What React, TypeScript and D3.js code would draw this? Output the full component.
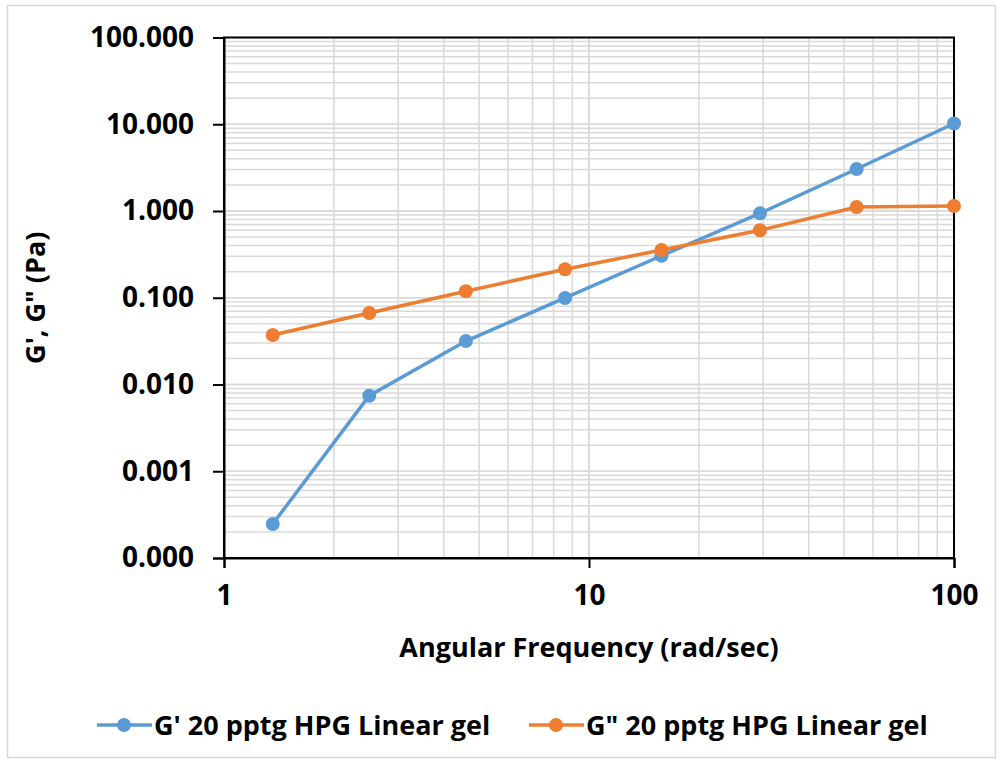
import React, { useEffect, useRef } from 'react';
import * as d3 from 'd3';

// angular frequency (rad/sec)
const freq = [1.36, 2.5, 4.6, 8.6, 15.8, 29.4, 54.1, 100];
const gPrime = [0.000247, 0.00743, 0.0317, 0.0995, 0.305, 0.94, 3.05, 10.2];
const gDouble = [0.0372, 0.0668, 0.119, 0.213, 0.355, 0.6, 1.11, 1.14];
const yTicks = [0.0001, 0.001, 0.01, 0.1, 1, 10, 100];
const xTicks = [1, 10, 100];
const seriesNames = ["G' 20 pptg HPG Linear gel", 'G" 20 pptg HPG Linear gel'];
const colors = ['#5b9bd5', '#ed7d31'];

const App = () => {
  const svgRef = useRef<SVGSVGElement>(null);

  useEffect(() => {
    const width = 1003;
    const height = 762;
    const margin = { top: 37.5, right: 49, bottom: 204, left: 224 };
    const font = '"Open Sans", "Noto Sans", sans-serif';

    const svg = d3.select(svgRef.current).attr('width', width).attr('height', height);
    svg.selectAll('*').remove();

    // outer chart border
    svg.append('rect')
      .attr('x', 7.5).attr('y', 5.5)
      .attr('width', 988).attr('height', 752)
      .attr('fill', '#fff').attr('stroke', '#d9d9d9').attr('stroke-width', 1.5);

    const x = d3.scaleLog().domain([1, 100]).range([margin.left, width - margin.right]);
    const y = d3.scaleLog().domain([0.0001, 100]).range([height - margin.bottom, margin.top]);

    // minor + major gridlines
    const xGrid: number[] = [];
    for (let dec = 1; dec < 100; dec *= 10) for (let k = 1; k <= 10; k++) xGrid.push(dec * k);
    const yGrid: number[] = [];
    for (let dec = 0.0001; dec < 99; dec *= 10) for (let k = 1; k <= 10; k++) yGrid.push(dec * k);

    const grid = svg.append('g').attr('stroke', '#d9d9d9').attr('stroke-width', 1.5);
    grid.selectAll('.gx').data(xGrid).join('line')
      .attr('x1', d => x(d)).attr('x2', d => x(d))
      .attr('y1', y(0.0001)).attr('y2', y(100));
    grid.selectAll('.gy').data(yGrid).join('line')
      .attr('y1', d => y(d)).attr('y2', d => y(d))
      .attr('x1', x(1)).attr('x2', x(100));

    // plot frame
    svg.append('rect')
      .attr('x', x(1)).attr('y', y(100))
      .attr('width', x(100) - x(1)).attr('height', y(0.0001) - y(100))
      .attr('fill', 'none').attr('stroke', '#000').attr('stroke-width', 2);

    // axes
    const yAxis = svg.append('g')
      .attr('transform', `translate(${x(1)},0)`)
      .call(d3.axisLeft(y).tickValues(yTicks).tickFormat(d => (+d).toFixed(3)).tickSize(11).tickPadding(19));
    yAxis.select('.domain').attr('stroke-width', 2);
    yAxis.selectAll('.tick line').attr('stroke-width', 2);
    yAxis.selectAll('text').attr('font-family', font).attr('font-weight', 'bold').attr('font-size', 28).attr('fill', '#000');

    const xAxis = svg.append('g')
      .attr('transform', `translate(0,${y(0.0001)})`)
      .call(d3.axisBottom(x).tickValues(xTicks).tickFormat(d3.format('d')).tickSize(10).tickPadding(17));
    xAxis.select('.domain').attr('stroke-width', 2);
    xAxis.selectAll('.tick line').attr('stroke-width', 2);
    xAxis.selectAll('text').attr('font-family', font).attr('font-weight', 'bold').attr('font-size', 28).attr('fill', '#000');

    // axis titles
    svg.append('text')
      .attr('x', (x(1) + x(100)) / 2).attr('y', 657)
      .attr('text-anchor', 'middle')
      .attr('font-family', font).attr('font-weight', 'bold').attr('font-size', 27)
      .text('Angular Frequency (rad/sec)');
    svg.append('text')
      .attr('transform', `translate(45,${(y(0.0001) + y(100)) / 2}) rotate(-90)`)
      .attr('text-anchor', 'middle')
      .attr('font-family', font).attr('font-weight', 'bold').attr('font-size', 27)
      .text('G\', G" (Pa)');

    // series
    const series = [gPrime, gDouble];
    const line = d3.line<number>()
      .x((_, i) => x(freq[i]))
      .y(d => y(d));

    series.forEach((vals, s) => {
      svg.append('path')
        .datum(vals)
        .attr('fill', 'none')
        .attr('stroke', colors[s])
        .attr('stroke-width', 3.5)
        .attr('d', line);
      svg.append('g').selectAll('circle').data(vals).join('circle')
        .attr('cx', (_, i) => x(freq[i]))
        .attr('cy', d => y(d))
        .attr('r', 7)
        .attr('fill', colors[s]);
    });

    // legend
    const legendX = [97, 529];
    seriesNames.forEach((name, s) => {
      const g = svg.append('g').attr('transform', `translate(${legendX[s]},725)`);
      g.append('line').attr('x1', 0).attr('x2', 55).attr('y1', 0).attr('y2', 0)
        .attr('stroke', colors[s]).attr('stroke-width', 3.5);
      g.append('circle').attr('cx', 27).attr('cy', 0).attr('r', 7).attr('fill', colors[s]);
      g.append('text').attr('x', 57).attr('y', 10)
        .attr('font-family', font).attr('font-weight', 'bold').attr('font-size', 27)
        .text(name);
    });
  }, []);

  return <svg ref={svgRef} style={{ position: 'absolute', left: 0, top: 0 }}></svg>;
};

export default App;
